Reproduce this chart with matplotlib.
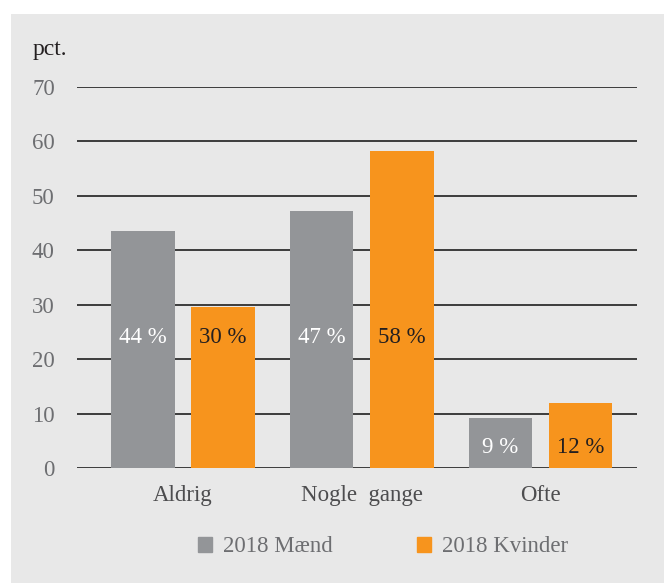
import matplotlib.pyplot as plt
import matplotlib.patches as mpatches
import numpy as np

# data
categories = ['Aldrig', 'Nogle  gange', 'Ofte']
series_names = ['2018 Mænd', '2018 Kvinder']
maend = [43.6, 47.2, 9.2]
kvinder = [29.6, 58.3, 11.9]
maend_labels = ['44 %', '47 %', '9 %']
kvinder_labels = ['30 %', '58 %', '12 %']
yticks = [0, 10, 20, 30, 40, 50, 60, 70]

grey_bar = '#939598'
orange_bar = '#f7941d'
bg = '#e8e8e8'
tick_col = '#6d6e71'
dark = '#231f20'

plt.rcParams['font.family'] = ['Liberation Serif', 'DejaVu Serif']

fig = plt.figure(figsize=(6.64, 5.83), dpi=100)
fig.patch.set_facecolor('white')
# grey panel behind everything
fig.patches.append(mpatches.Rectangle((11 / 664, 0), 1 - 11 / 664, 1 - 14 / 583,
                                      transform=fig.transFigure, facecolor=bg,
                                      edgecolor='none', zorder=-10))

ax = fig.add_axes([77 / 664, 1 - 468 / 583, 560 / 664, 381 / 583])
ax.set_facecolor('none')

x = np.arange(len(categories))
w = 0.355
off = 0.225
ax.bar(x - off, maend, width=w, color=grey_bar, zorder=3)
ax.bar(x + off, kvinder, width=w, color=orange_bar, zorder=3)

# value labels inside bars
for i in range(len(categories)):
    ym = 24.0 if maend[i] > 25 else 3.7
    yk = 24.0 if kvinder[i] > 25 else 3.7
    ax.text(x[i] - off, ym, maend_labels[i], ha='center', va='center',
            color='white', fontsize=16.5, zorder=4)
    ax.text(x[i] + off, yk, kvinder_labels[i], ha='center', va='center',
            color=dark, fontsize=16.5, zorder=4)

ax.set_xlim(-0.593, 2.54)
ax.set_ylim(0, 70)
ax.set_yticks(yticks)
ax.set_xticks(x)
ax.set_xticklabels(categories)
ax.tick_params(axis='y', length=0, pad=16, labelsize=16.5, labelcolor=tick_col)
ax.tick_params(axis='x', length=0, pad=12, labelsize=16.5, labelcolor='#4d4d4f')
for s in ax.spines.values():
    s.set_visible(False)
ax.grid(axis='y', color='#2e2e2e', linewidth=1.3, zorder=1)
ax.set_axisbelow(True)

fig.text(33 / 664, 1 - 50 / 583, 'pct.', fontsize=17, color=dark, va='center', ha='left')

handles = [mpatches.Patch(color=grey_bar), mpatches.Patch(color=orange_bar)]
leg = fig.legend(handles, series_names, loc='center', ncol=2,
                 bbox_to_anchor=(383 / 664, 1 - 547 / 583), frameon=False,
                 fontsize=16.5, handlelength=0.62, handleheight=0.62,
                 handletextpad=0.45, columnspacing=3.7, labelcolor=tick_col)

plt.savefig('out.png', dpi=100, facecolor=fig.get_facecolor())
